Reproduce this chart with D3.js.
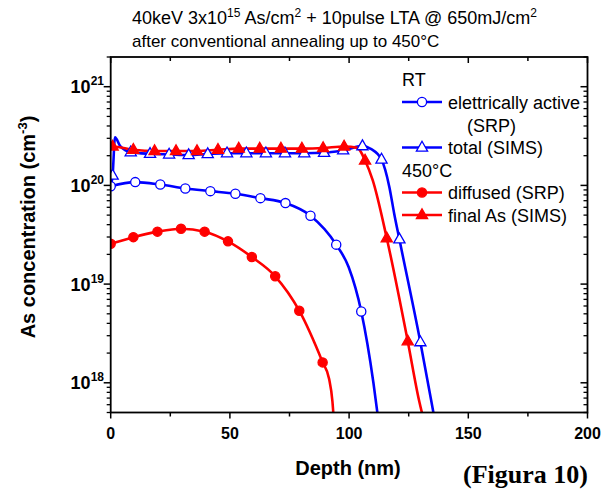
<!DOCTYPE html>
<html>
<head>
<meta charset="utf-8">
<script src="https://cdn.jsdelivr.net/npm/d3@7/dist/d3.min.js"></script>
<style>
  html, body { margin: 0; padding: 0; background: #fff; }
  svg { display: block; }
  text { font-family: "Liberation Sans", Arial, sans-serif; }
</style>
</head>
<body>
<svg id="chart" width="610" height="489"></svg>
<script>
// ---- data: depth (nm), concentration (cm^-3) ----
// RT, electrically active (SRP) – measured points
const activeRT = [[0,9.8e19],[10.3,1.08e20],[20.8,1.02e20],[31.3,9.3e19],[41.8,8.75e19],[52.3,8.24e19],
  [62.8,7.43e19],[73.3,6.62e19],[83.8,4.93e19],[94.6,2.51e19],[105.1,5.28e18]];
const activeRTTrace = [[99.8,1.49e19],[110.2,1.0e18],[112.1,4.5e17]];

// RT, total (SIMS)
const totalRT = [[0.8,1.26e20],[8.4,2.17e20],[16.5,2.09e20],[24.5,2.06e20],[32.7,2.03e20],[40.7,2.08e20],
  [48.8,2.12e20],[56.9,2.12e20],[65.1,2.12e20],[73.1,2.12e20],[81.2,2.12e20],[89.5,2.14e20],
  [97.5,2.27e20],[105.6,2.5e20],[113.6,1.83e20],[121.1,2.84e19],[129.9,2.58e18]];
const totalRTTrace = [[0,1.0e20],[1.8,3.08e20],[4.0,2.5e20],[109.1,2.35e20],[116.9,9.6e19],[118.9,5.2e19],
  [134.4,6.7e17],[135.7,4.5e17]];

// 450°C, diffused (SRP)
const diffused = [[0,2.56e19],[9.5,2.99e19],[19.6,3.4e19],[29.5,3.64e19],[39.4,3.4e19],[49.2,2.71e19],
  [59.2,1.88e19],[69.0,1.2e19],[79.1,5.37e18],[88.9,1.61e18]];
const diffusedTrace = [[91.6,1.1e18],[93.0,6.5e17],[93.5,4.5e17]];

// 450°C, final As (SIMS)
const finalAs = [[0.8,2.48e20],[9.5,2.3e20],[18.4,2.23e20],[27.4,2.23e20],[36.2,2.23e20],[45.0,2.3e20],
  [53.7,2.36e20],[62.5,2.36e20],[71.4,2.36e20],[80.2,2.36e20],[89.1,2.39e20],[97.9,2.48e20],
  [106.7,1.79e20],[115.8,2.92e19],[124.6,2.64e18]];
const finalAsTrace = [[0,2.3e20],[103.5,2.4e20],[109.9,1.13e20],[129.3,6.7e17],[131.0,4.5e17]];

const xTicks = [0, 50, 100, 150, 200];
const yDecades = [18, 19, 20, 21];
const titleLines = ["40keV 3x10|15| As/cm|2| + 10pulse LTA @ 650mJ/cm|2|",
                    "after conventional annealing up to 450°C"];
const titleSizes = [18, 17];

// ---- layout ----
const svg = d3.select("#chart");
const plot = { left: 110.7, right: 587.5, top: 57, bottom: 412.5 };
const x = d3.scaleLinear().domain([0, 200]).range([plot.left, plot.right]);
const y = d3.scaleLog().domain([5e17, 2e21]).range([plot.bottom, plot.top]);
const BLUE = "#0000ff", RED = "#ff0000";

svg.append("defs").append("clipPath").attr("id", "plotclip")
  .append("rect").attr("x", plot.left).attr("y", plot.top)
  .attr("width", plot.right - plot.left).attr("height", plot.bottom - plot.top);

// ---- title (superscripts marked with |..|) ----
function richText(sel, str, supSize) {
  str.split("|").forEach((part, i) => {
    if (!part) return;
    const t = sel.append("tspan").text(part);
    if (i % 2 === 1) t.attr("font-size", supSize).attr("dy", -7);
    else if (i > 0) t.attr("dy", 7);
  });
}
titleLines.forEach((s, i) => {
  const t = svg.append("text").attr("x", 132).attr("y", 24 + i * 23)
    .attr("font-size", titleSizes[i]).attr("fill", "#000");
  richText(t, s, 12);
});

// ---- series ----
const line = d3.line().x(d => x(d[0])).y(d => y(d[1])).curve(d3.curveMonotoneX);
const series = [
  { pts: totalRT, trace: totalRTTrace, color: BLUE, sym: "tri", fill: "#fff" },
  { pts: finalAs, trace: finalAsTrace, color: RED, sym: "tri", fill: RED },
  { pts: activeRT, trace: activeRTTrace, color: BLUE, sym: "circ", fill: "#fff" },
  { pts: diffused, trace: diffusedTrace, color: RED, sym: "circ", fill: RED }
];
const g = svg.append("g").attr("clip-path", "url(#plotclip)");
series.forEach(s => {
  const all = s.pts.concat(s.trace).sort((a, b) => a[0] - b[0]);
  g.append("path").attr("d", line(all)).attr("fill", "none")
    .attr("stroke", s.color).attr("stroke-width", 2.6).attr("stroke-linejoin", "round");
});
const triPath = "M0,-6.2L5.6,3.6L-5.6,3.6Z";
function drawMarker(sel, sym, cx, cy, color, fill) {
  if (sym === "circ") {
    sel.append("circle").attr("cx", cx).attr("cy", cy).attr("r", 4.6)
      .attr("fill", fill).attr("stroke", color).attr("stroke-width", 1.3);
  } else {
    sel.append("path").attr("d", triPath).attr("transform", `translate(${cx},${cy})`)
      .attr("fill", fill).attr("stroke", color).attr("stroke-width", 1.3);
  }
}
series.forEach(s => {
  s.pts.forEach(d => drawMarker(g, s.sym, x(d[0]), y(d[1]), s.color, s.fill));
});

// ---- axes frame ----
const ax = svg.append("g").attr("stroke", "#000").attr("fill", "none");
ax.append("rect").attr("x", plot.left).attr("y", plot.top)
  .attr("width", plot.right - plot.left).attr("height", plot.bottom - plot.top)
  .attr("stroke-width", 1.8);

// x ticks: bottom outward, top inward
d3.range(0, 201, 25).forEach(v => {
  const major = v % 50 === 0;
  const len = major ? 6 : 4;
  ax.append("line").attr("x1", x(v)).attr("x2", x(v))
    .attr("y1", plot.bottom).attr("y2", plot.bottom + len).attr("stroke-width", 1.5);
  ax.append("line").attr("x1", x(v)).attr("x2", x(v))
    .attr("y1", plot.top).attr("y2", plot.top + len).attr("stroke-width", 1.5);
});
// y ticks: left outward, right inward
const yMinor = [];
for (let e = 17; e <= 21; e++) for (let m = 2; m <= 9; m++) {
  const v = m * Math.pow(10, e);
  if (v >= 5e17 && v <= 2e21) yMinor.push(v);
}
yMinor.forEach(v => {
  ax.append("line").attr("x1", plot.left - 4).attr("x2", plot.left)
    .attr("y1", y(v)).attr("y2", y(v)).attr("stroke-width", 1.3);
  ax.append("line").attr("x1", plot.right - 4).attr("x2", plot.right)
    .attr("y1", y(v)).attr("y2", y(v)).attr("stroke-width", 1.3);
});
yDecades.forEach(e => {
  const v = Math.pow(10, e);
  ax.append("line").attr("x1", plot.left - 7).attr("x2", plot.left)
    .attr("y1", y(v)).attr("y2", y(v)).attr("stroke-width", 1.5);
  ax.append("line").attr("x1", plot.right - 7).attr("x2", plot.right)
    .attr("y1", y(v)).attr("y2", y(v)).attr("stroke-width", 1.5);
});

// tick labels
xTicks.forEach(v => {
  svg.append("text").attr("x", x(v)).attr("y", 439).attr("text-anchor", "middle")
    .attr("font-size", 16).attr("font-weight", "bold").text(v);
});
yDecades.forEach(e => {
  const t = svg.append("text").attr("x", 104).attr("y", y(Math.pow(10, e)) + 6.5)
    .attr("text-anchor", "end").attr("font-size", 18).attr("font-weight", "bold");
  t.append("tspan").text("10");
  t.append("tspan").attr("font-size", 12).attr("dy", -8).text(e);
});

// axis titles
svg.append("text").attr("x", 348).attr("y", 475).attr("text-anchor", "middle")
  .attr("font-size", 20).attr("font-weight", "bold").text("Depth (nm)");
const yl = svg.append("text").attr("transform", "translate(35,227) rotate(-90)")
  .attr("text-anchor", "middle").attr("font-size", 20).attr("font-weight", "bold");
yl.append("tspan").text("As concentration (cm");
yl.append("tspan").attr("font-size", 13).attr("dy", -8).text("-3");
yl.append("tspan").attr("dy", 8).text(")");

svg.append("text").attr("x", 588).attr("y", 483).attr("text-anchor", "end")
  .style("font-family", "'Liberation Serif', 'Times New Roman', serif")
  .attr("font-size", 26).attr("font-weight", "bold").text("(Figura 10)");

// ---- legend ----
const lg = svg.append("g");
const lx0 = 402, lx1 = 442, tx = 448;
const legendRows = [
  { y: 79, label: "RT" },
  { y: 102, label: "elettrically active", color: BLUE, sym: "circ", fill: "#fff" },
  { y: 125, label: "(SRP)", indent: 19 },
  { y: 147.5, label: "total (SIMS)", color: BLUE, sym: "tri", fill: "#fff" },
  { y: 170, label: "450°C" },
  { y: 192.5, label: "diffused (SRP)", color: RED, sym: "circ", fill: RED },
  { y: 215, label: "final As (SIMS)", color: RED, sym: "tri", fill: RED }
];
legendRows.forEach(r => {
  if (r.color) {
    lg.append("line").attr("x1", lx0).attr("x2", lx1).attr("y1", r.y).attr("y2", r.y)
      .attr("stroke", r.color).attr("stroke-width", 2.6);
    drawMarker(lg, r.sym, (lx0 + lx1) / 2, r.y, r.color, r.fill);
    lg.append("text").attr("x", tx).attr("y", r.y + 6.5).attr("font-size", 18).text(r.label);
  } else if (r.indent) {
    lg.append("text").attr("x", tx + r.indent).attr("y", r.y + 6.5).attr("font-size", 18).text(r.label);
  } else {
    lg.append("text").attr("x", lx0).attr("y", r.y + 6.5).attr("font-size", 18).text(r.label);
  }
});
</script>
</body>
</html>
